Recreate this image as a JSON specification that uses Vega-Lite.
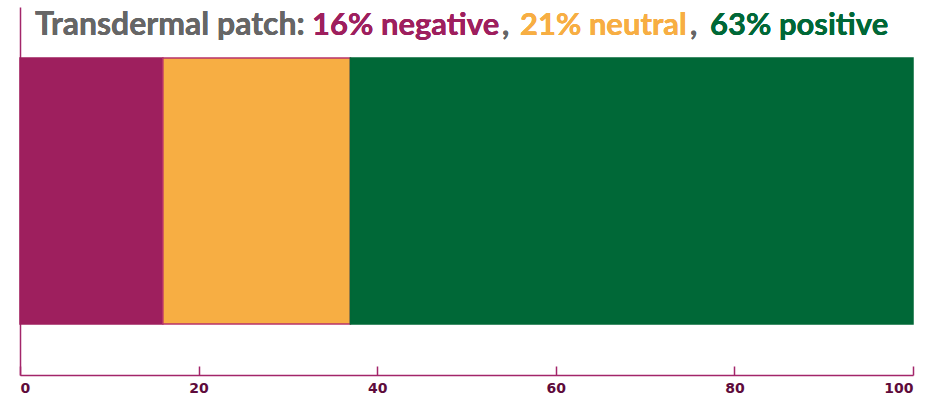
{
  "$schema": "https://vega.github.io/schema/vega-lite/v6.json",
  "width": 893,
  "height": 368,
  "autosize": {"type": "none"},
  "padding": {"left": 20, "top": 7, "right": 34, "bottom": 22},
  "background": "white",
  "config": {"view": {"stroke": null}},
  "data": {"values": [
    {"item": "Transdermal patch", "sentiment": "negative", "pct": 16},
    {"item": "Transdermal patch", "sentiment": "neutral", "pct": 21},
    {"item": "Transdermal patch", "sentiment": "positive", "pct": 63}
  ]},
  "encoding": {
    "y": {"field": "item", "type": "nominal",
      "scale": {"paddingInner": 0, "paddingOuter": 0.1917},
      "axis": {"title": null, "labels": false, "ticks": false, "domainColor": "#A3256A", "domainWidth": 1.5, "grid": false}}
  },
  "layer": [
    {
      "mark": {"type": "bar", "strokeWidth": 1.5},
      "encoding": {
        "x": {"field": "pct", "type": "quantitative", "stack": "zero",
          "scale": {"domain": [0, 100], "nice": false},
          "axis": {"title": null, "values": [0, 20, 40, 60, 80, 100], "grid": false,
            "domainColor": "#A3256A", "domainWidth": 1.5, "tickColor": "#A3256A", "tickWidth": 1.5,
            "tickSize": -9, "labelPadding": 15, "labelFont": "DejaVu Sans", "labelFontWeight": "bold",
            "labelFontSize": 14, "labelColor": "#5E0B3B", "labelBaseline": "top"}},
        "color": {"field": "sentiment", "type": "nominal",
          "scale": {"domain": ["negative", "neutral", "positive"], "range": ["#9E1F5E", "#F7AE43", "#006837"]},
          "legend": null},
        "stroke": {"field": "sentiment", "type": "nominal",
          "scale": {"domain": ["negative", "neutral", "positive"], "range": ["#9E1F5E", "#B8336A", "#006837"]},
          "legend": null}
      }
    },
    {
      "mark": {"type": "text", "font": "Lato", "fontWeight": "bold", "fontSize": 32, "align": "left", "baseline": "alphabetic", "dy": -23, "color": "#666666", "text": "Transdermal patch:"},
      "encoding": {"x": {"datum": 1.68, "type": "quantitative"}, "y": {"datum": "Transdermal patch", "type": "nominal", "bandPosition": 0}}
    },
    {
      "mark": {"type": "text", "font": "Lato", "fontWeight": "bold", "fontSize": 31, "align": "left", "baseline": "alphabetic", "dy": -23, "color": "#9E1F5E", "text": "16% negative"},
      "encoding": {"x": {"datum": 32.7, "type": "quantitative"}, "y": {"datum": "Transdermal patch", "type": "nominal", "bandPosition": 0}}
    },
    {
      "mark": {"type": "text", "font": "Lato", "fontWeight": "bold", "fontSize": 31, "align": "left", "baseline": "alphabetic", "dy": -23, "color": "#666666", "text": ","},
      "encoding": {"x": {"datum": 53.98, "type": "quantitative"}, "y": {"datum": "Transdermal patch", "type": "nominal", "bandPosition": 0}}
    },
    {
      "mark": {"type": "text", "font": "Lato", "fontWeight": "bold", "fontSize": 31, "align": "left", "baseline": "alphabetic", "dy": -23, "color": "#F7AE43", "text": "21% neutral"},
      "encoding": {"x": {"datum": 55.99, "type": "quantitative"}, "y": {"datum": "Transdermal patch", "type": "nominal", "bandPosition": 0}}
    },
    {
      "mark": {"type": "text", "font": "Lato", "fontWeight": "bold", "fontSize": 31, "align": "left", "baseline": "alphabetic", "dy": -23, "color": "#666666", "text": ","},
      "encoding": {"x": {"datum": 75.03, "type": "quantitative"}, "y": {"datum": "Transdermal patch", "type": "nominal", "bandPosition": 0}}
    },
    {
      "mark": {"type": "text", "font": "Lato", "fontWeight": "bold", "fontSize": 31, "align": "left", "baseline": "alphabetic", "dy": -23, "color": "#006837", "text": "63% positive"},
      "encoding": {"x": {"datum": 77.27, "type": "quantitative"}, "y": {"datum": "Transdermal patch", "type": "nominal", "bandPosition": 0}}
    }
  ]
}
